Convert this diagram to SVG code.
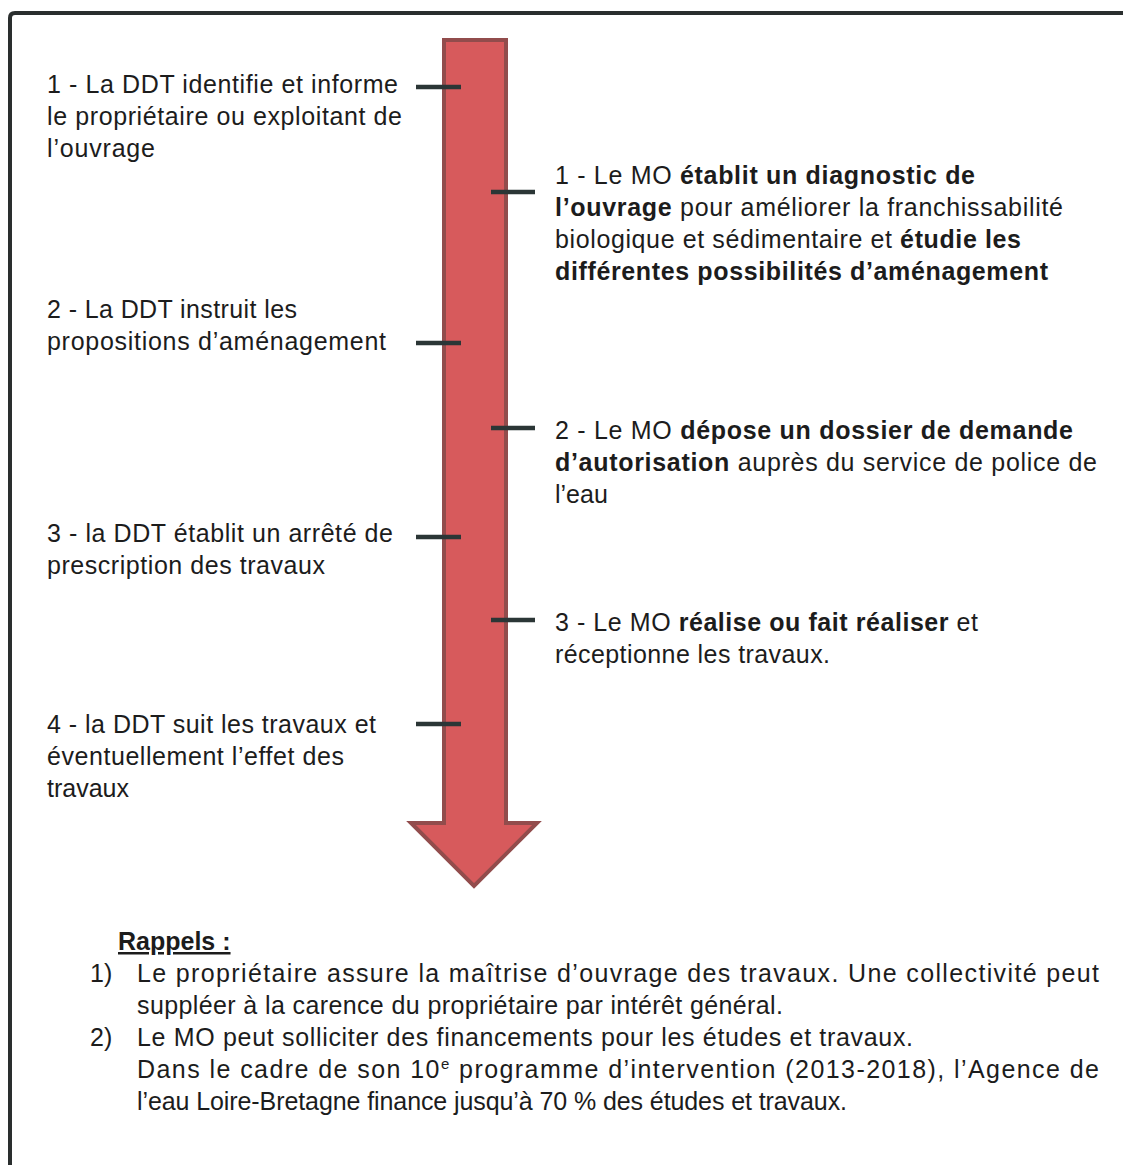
<svg xmlns="http://www.w3.org/2000/svg" width="1123" height="1165" viewBox="0 0 1123 1165">
<style>
text { font-family: "Liberation Sans", Arial, sans-serif; font-size: 25px; fill: #1c1c1c; }
.b { font-weight: bold; }
.tick { stroke: #2b3636; stroke-width: 4.5; }
</style>
<rect x="0" y="0" width="1123" height="1165" fill="#ffffff"/>
<g id="frame">
<path d="M10 1165 V18 Q10 13 15 13 H1123" fill="none" stroke="#2a2e2e" stroke-width="4"/>
</g>
<g id="arrow">
<polygon points="444,40 506,40 506,823 537,823 474,886 411,823 444,823" fill="#d75a5c" stroke="#924c4c" stroke-width="4" stroke-linejoin="miter"/>
</g>
<g id="connectors">
<line class="tick" x1="416" y1="87" x2="461" y2="87"/>
<line class="tick" x1="416" y1="343" x2="461" y2="343"/>
<line class="tick" x1="416" y1="537" x2="461" y2="537"/>
<line class="tick" x1="416" y1="724" x2="461" y2="724"/>
<line class="tick" x1="491" y1="192" x2="535" y2="192"/>
<line class="tick" x1="491" y1="428" x2="535" y2="428"/>
<line class="tick" x1="491" y1="620" x2="535" y2="620"/>
</g>
<g id="ddt1">
<text x="47" y="93" textLength="351" lengthAdjust="spacing">1 - La DDT identifie et informe</text>
<text x="47" y="125" textLength="355" lengthAdjust="spacing">le propriétaire ou exploitant de</text>
<text x="47" y="157" textLength="108" lengthAdjust="spacing">l’ouvrage</text>
</g>
<g id="mo1">
<text x="555" y="184" textLength="420" lengthAdjust="spacing">1 - Le MO <tspan class="b">établit un diagnostic de</tspan></text>
<text x="555" y="216" textLength="508" lengthAdjust="spacing"><tspan class="b">l’ouvrage</tspan> pour améliorer la franchissabilité</text>
<text x="555" y="248" textLength="466" lengthAdjust="spacing">biologique et sédimentaire et <tspan class="b">étudie les</tspan></text>
<text x="555" y="280" textLength="493" lengthAdjust="spacing" class="b">différentes possibilités d’aménagement</text>
</g>
<g id="ddt2">
<text x="47" y="318" textLength="250" lengthAdjust="spacing">2 - La DDT instruit les</text>
<text x="47" y="350" textLength="339" lengthAdjust="spacing">propositions d’aménagement</text>
</g>
<g id="mo2">
<text x="555" y="439" textLength="518" lengthAdjust="spacing">2 - Le MO <tspan class="b">dépose un dossier de demande</tspan></text>
<text x="555" y="471" textLength="542" lengthAdjust="spacing"><tspan class="b">d’autorisation</tspan> auprès du service de police de</text>
<text x="555" y="503">l’eau</text>
</g>
<g id="ddt3">
<text x="47" y="542" textLength="346" lengthAdjust="spacing">3 - la DDT établit un arrêté de</text>
<text x="47" y="574" textLength="278" lengthAdjust="spacing">prescription des travaux</text>
</g>
<g id="mo3">
<text x="555" y="631" textLength="423" lengthAdjust="spacing">3 - Le MO <tspan class="b">réalise ou fait réaliser</tspan> et</text>
<text x="555" y="663" textLength="275" lengthAdjust="spacing">réceptionne les travaux.</text>
</g>
<g id="ddt4">
<text x="47" y="733" textLength="329" lengthAdjust="spacing">4 - la DDT suit les travaux et</text>
<text x="47" y="765" textLength="297" lengthAdjust="spacing">éventuellement l’effet des</text>
<text x="47" y="797">travaux</text>
</g>
<g id="rappels">
<text x="118" y="950" class="b" text-decoration="underline">Rappels :</text>
<text x="90" y="982">1)</text>
<text x="137" y="982" textLength="962" lengthAdjust="spacing">Le propriétaire assure la maîtrise d’ouvrage des travaux. Une collectivité peut</text>
<text x="137" y="1014" textLength="646" lengthAdjust="spacing">suppléer à la carence du propriétaire par intérêt général.</text>
<text x="90" y="1046">2)</text>
<text x="137" y="1046" textLength="776" lengthAdjust="spacing">Le MO peut solliciter des financements pour les études et travaux.</text>
<text x="137" y="1078" textLength="962" lengthAdjust="spacing">Dans le cadre de son 10<tspan font-size="15" dy="-9">e</tspan><tspan dy="9"> programme d’intervention (2013-2018), l’Agence de</tspan></text>
<text x="137" y="1110" textLength="710" lengthAdjust="spacing">l’eau Loire-Bretagne finance jusqu’à 70 % des études et travaux.</text>
</g>
</svg>
